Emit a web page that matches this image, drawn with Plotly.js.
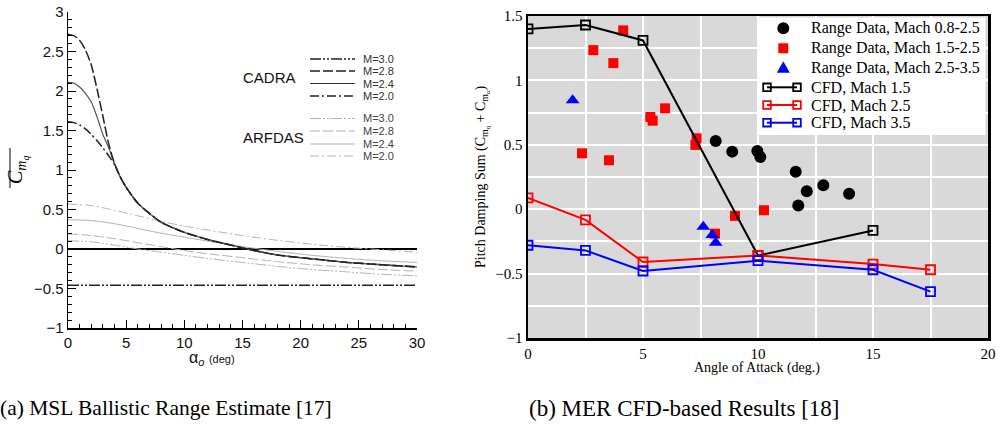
<!DOCTYPE html>
<html><head><meta charset="utf-8">
<script src="https://cdn.plot.ly/plotly-3.0.1.min.js"></script>
<style>html,body{margin:0;padding:0;background:#fff}#chart{width:997px;height:427px}</style>
</head><body><div id="chart"></div>
<script>
// ---------- (a) MSL Ballistic Range Estimate ----------
const alphaCadra = [0,0.5,1,1.5,2,2.5,3,3.5,4,4.5,5,6,7,8,9,10,12,14,16,18,20,22,24,26,28,30];
const cadraM28 = [2.72,2.70,2.64,2.52,2.33,2.02,1.68,1.33,1.08,0.91,0.78,0.58,0.45,0.34,0.27,0.21,0.12,0.05,-0.02,-0.075,-0.11,-0.14,-0.17,-0.19,-0.21,-0.225];
const cadraM24 = [2.11,2.10,2.05,1.97,1.86,1.67,1.45,1.28,1.08,0.91,0.78,0.58,0.45,0.34,0.27,0.21,0.12,0.05,-0.02,-0.075,-0.11,-0.14,-0.17,-0.19,-0.21,-0.225];
const cadraM20 = [1.61,1.60,1.57,1.52,1.45,1.37,1.28,1.18,1.07,0.91,0.78,0.58,0.45,0.34,0.27,0.21,0.12,0.05,-0.02,-0.075,-0.11,-0.14,-0.17,-0.19,-0.21,-0.225];
const alphaCadra30 = [0,30];
const cadraM30 = [-0.46,-0.46];

const alphaArfdas = [0,2,4,6,8,10,12,15,18,21,24,27,30];
const arfdasM20 = [0.57,0.55,0.49,0.42,0.35,0.29,0.24,0.17,0.11,0.06,0.02,-0.01,-0.04];
const arfdasM24 = [0.37,0.36,0.32,0.26,0.20,0.15,0.10,0.03,-0.03,-0.08,-0.12,-0.15,-0.17];
const arfdasM28 = [0.19,0.17,0.13,0.08,0.03,-0.02,-0.06,-0.11,-0.16,-0.20,-0.23,-0.26,-0.28];
const arfdasM30 = [0.105,0.09,0.05,0.0,-0.04,-0.08,-0.12,-0.17,-0.22,-0.26,-0.29,-0.32,-0.34];
const machLabels = ["M=3.0","M=2.8","M=2.4","M=2.0"];

// ---------- (b) MER CFD-based Results ----------
const rangeA_x = [8.16,8.88,9.97,10.1,11.64,12.12,12.84,13.96,11.75];
const rangeA_y = [0.53,0.447,0.452,0.405,0.29,0.14,0.186,0.12,0.028];
const rangeB_x = [4.14,2.84,3.71,5.32,5.42,5.96,7.33,7.28,2.35,3.52,9.0,10.26,8.13];
const rangeB_y = [1.388,1.235,1.134,0.716,0.687,0.783,0.55,0.499,0.434,0.38,-0.052,-0.008,-0.19];
const rangeC_x = [1.94,7.62,8.01,8.16];
const rangeC_y = [0.845,-0.137,-0.2,-0.26];
const cfd15_x = [0,2.5,5,10,15];
const cfd15_y = [1.40,1.43,1.31,-0.36,-0.165];
const cfd25_x = [0,2.5,5,10,15,17.5];
const cfd25_y = [0.088,-0.083,-0.41,-0.36,-0.426,-0.47];
const cfd35_x = [0,2.5,5,10,15,17.5];
const cfd35_y = [-0.28,-0.32,-0.48,-0.40,-0.47,-0.64];
const seriesNames = ["Range Data, Mach 0.8-2.5","Range Data, Mach 1.5-2.5","Range Data, Mach 2.5-3.5","CFD, Mach 1.5","CFD, Mach 2.5","CFD, Mach 3.5"];
const seriesColors = ["#000000","#ff0000","#0000ff","#000000","#ff0000","#0000ff"];

// ---------- layout helpers ----------
const W = 997, H = 427;
const PX = p => p / W, PY = p => 1 - p / H;

const dashDDot = "11px,2px,2px,2px,2px,2px";
const dashLong = "10px,3px";
const dashDot = "9px,3px,2px,3px";
const gray = "#b3b3b3";

function lineL(x, y, color, width, dash) {
  return {x: x, y: y, type: "scatter", mode: "lines", xaxis: "x", yaxis: "y", showlegend: false,
    line: {color: color, width: width, dash: dash, shape: "spline", smoothing: 0.7}, hoverinfo: "skip"};
}

const traces = [
  lineL(alphaArfdas, arfdasM30, gray, 1, dashDDot),
  lineL(alphaArfdas, arfdasM28, gray, 1, dashLong),
  lineL(alphaArfdas, arfdasM24, gray, 1, "solid"),
  lineL(alphaArfdas, arfdasM20, gray, 1, dashDot),
  lineL(alphaCadra30, cadraM30, "#222", 1.5, dashDDot),
  lineL(alphaCadra, cadraM20, "#222", 1.5, dashDot),
  lineL(alphaCadra, cadraM24, "#555", 1.2, "solid"),
  lineL(alphaCadra, cadraM28, "#222", 1.5, dashLong),
  {x: rangeA_x, y: rangeA_y, name: seriesNames[0], type: "scatter", mode: "markers", xaxis: "x2", yaxis: "y2",
    marker: {symbol: "circle", size: 12, color: seriesColors[0]}},
  {x: rangeB_x, y: rangeB_y, name: seriesNames[1], type: "scatter", mode: "markers", xaxis: "x2", yaxis: "y2",
    marker: {symbol: "square", size: 10, color: seriesColors[1]}},
  {x: rangeC_x, y: rangeC_y, name: seriesNames[2], type: "scatter", mode: "markers", xaxis: "x2", yaxis: "y2",
    marker: {symbol: "triangle-up", size: 12, color: seriesColors[2]}},
  {x: cfd15_x, y: cfd15_y, name: seriesNames[3], type: "scatter", mode: "lines+markers", xaxis: "x2", yaxis: "y2",
    line: {color: seriesColors[3], width: 2}, marker: {symbol: "square-open", size: 9, color: seriesColors[3], line: {width: 1.8}}},
  {x: cfd25_x, y: cfd25_y, name: seriesNames[4], type: "scatter", mode: "lines+markers", xaxis: "x2", yaxis: "y2",
    line: {color: seriesColors[4], width: 2}, marker: {symbol: "square-open", size: 9, color: seriesColors[4], line: {width: 1.8}}},
  {x: cfd35_x, y: cfd35_y, name: seriesNames[5], type: "scatter", mode: "lines+markers", xaxis: "x2", yaxis: "y2",
    line: {color: seriesColors[5], width: 2}, marker: {symbol: "square-open", size: 9, color: seriesColors[5], line: {width: 1.8}}}
];

const shapes = [
  {type: "rect", xref: "x2 domain", yref: "y2 domain", x0: 0, x1: 1, y0: 0, y1: 1, layer: "below",
    fillcolor: "#d9d9d9", line: {width: 0}},
  // overline for left y title
  {type: "line", xref: "paper", yref: "paper", x0: PX(10), x1: PX(10), y0: PY(148), y1: PY(188),
    line: {color: "#000", width: 1}}
];
const annotations = [];

// left legend (drawn manually: label groups sit to the left of the samples)
const cadraStyles = [[dashDDot,"#222",1.5],[dashLong,"#222",1.5],["solid","#333",1.2],[dashDot,"#222",1.5]];
const arfStyles = [[dashDDot,gray,1],[dashLong,gray,1],["solid",gray,1],[dashDot,gray,1]];
const cadraRows = [59, 71, 83.5, 96];
const arfRows = [118.5, 131, 144, 156];
for (let i = 0; i < 4; i++) {
  shapes.push({type: "line", xref: "paper", yref: "paper", x0: PX(310), x1: PX(355), y0: PY(cadraRows[i]), y1: PY(cadraRows[i]),
    line: {dash: cadraStyles[i][0], color: cadraStyles[i][1], width: cadraStyles[i][2]}});
  shapes.push({type: "line", xref: "paper", yref: "paper", x0: PX(310), x1: PX(355), y0: PY(arfRows[i]), y1: PY(arfRows[i]),
    line: {dash: arfStyles[i][0], color: arfStyles[i][1], width: arfStyles[i][2]}});
  annotations.push({xref: "paper", yref: "paper", x: PX(361), y: PY(cadraRows[i]), xanchor: "left", yanchor: "middle",
    text: machLabels[i], showarrow: false, font: {family: "Liberation Sans", size: 11, color: "#333"}});
  annotations.push({xref: "paper", yref: "paper", x: PX(361), y: PY(arfRows[i]), xanchor: "left", yanchor: "middle",
    text: machLabels[i], showarrow: false, font: {family: "Liberation Sans", size: 11, color: "#444"}});
}

// right legend (drawn manually to match the compact row spacing)
shapes.push({type: "rect", xref: "paper", yref: "paper", x0: PX(757), x1: PX(985.5), y0: PY(135), y1: PY(17.5),
  fillcolor: "#fff", line: {width: 0}, layer: "above"});
const legRows = [28.3, 48.3, 67.7, 87.3, 105, 122.7];
const mx = 783.3;
shapes.push({type: "circle", xref: "paper", yref: "paper", x0: PX(mx-6), x1: PX(mx+6), y0: PY(legRows[0]+6), y1: PY(legRows[0]-6),
  fillcolor: seriesColors[0], line: {width: 0}});
shapes.push({type: "rect", xref: "paper", yref: "paper", x0: PX(mx-5), x1: PX(mx+5), y0: PY(legRows[1]+5), y1: PY(legRows[1]-5),
  fillcolor: seriesColors[1], line: {width: 0}});
shapes.push({type: "path", xref: "paper", yref: "paper",
  path: "M " + PX(mx) + " " + PY(legRows[2]-6.5) + " L " + PX(mx+6.5) + " " + PY(legRows[2]+5) + " L " + PX(mx-6.5) + " " + PY(legRows[2]+5) + " Z",
  fillcolor: seriesColors[2], line: {width: 0}});
for (let k = 3; k < 6; k++) {
  const r = legRows[k], c = seriesColors[k];
  shapes.push({type: "line", xref: "paper", yref: "paper", x0: PX(767), x1: PX(797), y0: PY(r), y1: PY(r), line: {color: c, width: 2}});
  [767, 797].forEach(cx => shapes.push({type: "rect", xref: "paper", yref: "paper", x0: PX(cx-3.8), x1: PX(cx+3.8),
    y0: PY(r+3.8), y1: PY(r-3.8), fillcolor: "rgba(0,0,0,0)", line: {color: c, width: 1.8}}));
}
for (let k = 0; k < 6; k++) {
  annotations.push({xref: "paper", yref: "paper", x: PX(809), y: PY(legRows[k]), xanchor: "left", yanchor: "middle",
    text: seriesNames[k], showarrow: false, font: {family: "Liberation Serif", size: 16, color: "#000"}});
}

annotations.push(
  {xref: "paper", yref: "paper", x: PX(241), y: PY(78), xanchor: "left", yanchor: "middle", text: "CADRA",
    showarrow: false, font: {family: "Liberation Sans", size: 15, color: "#111"}},
  {xref: "paper", yref: "paper", x: PX(241), y: PY(137.5), xanchor: "left", yanchor: "middle", text: "ARFDAS",
    showarrow: false, font: {family: "Liberation Sans", size: 15, color: "#111"}},
  {xref: "paper", yref: "paper", x: PX(17), y: PY(170), xanchor: "center", yanchor: "middle", textangle: -90,
    text: "<i>C<sub>m<sub>q</sub></sub></i>", showarrow: false, font: {family: "Liberation Serif", size: 20, color: "#000"}},
  {xref: "paper", yref: "paper", x: PX(212), y: PY(358), xanchor: "center", yanchor: "middle",
    text: "α<sub><i>o</i></sub> <span style='font-size:11px'>(deg)</span>", showarrow: false,
    font: {family: "Liberation Sans", size: 16, color: "#111"}},
  {xref: "paper", yref: "paper", x: PX(757), y: PY(368), xanchor: "center", yanchor: "middle",
    text: "Angle of Attack (deg.)", showarrow: false, font: {family: "Liberation Serif", size: 14, color: "#000"}},
  {xref: "paper", yref: "paper", x: PX(482), y: PY(177), xanchor: "center", yanchor: "middle", textangle: -90,
    text: "Pitch Damping Sum (C<sub>m<sub>q</sub></sub> + C<sub>m<sub>α</sub></sub>)", showarrow: false,
    font: {family: "Liberation Serif", size: 14, color: "#000"}},
  {xref: "paper", yref: "paper", x: PX(-2), y: PY(408), xanchor: "left", yanchor: "middle",
    text: "(a) MSL Ballistic Range Estimate [17]", showarrow: false, font: {family: "Liberation Serif", size: 21.5, color: "#000"}},
  {xref: "paper", yref: "paper", x: PX(527), y: PY(408), xanchor: "left", yanchor: "middle",
    text: "(b) MER CFD-based Results [18]", showarrow: false, font: {family: "Liberation Serif", size: 23, color: "#000"}}
);

const layout = {
  width: W, height: H,
  margin: {l: 0, r: 0, t: 0, b: 0},
  paper_bgcolor: "#fff", plot_bgcolor: "rgba(0,0,0,0)",
  showlegend: false,
  xaxis: {domain: [PX(68), PX(417)], range: [0, 30], dtick: 5, tick0: 0, showgrid: false, zeroline: false,
    showline: true, linecolor: "#000", linewidth: 1.5, ticks: "inside", ticklen: 8, tickcolor: "#000", tickwidth: 1,
    minor: {dtick: 1, ticks: "inside", ticklen: 4, tickcolor: "#000", showgrid: false},
    tickfont: {family: "Liberation Sans", size: 15, color: "#111"}, anchor: "y", fixedrange: true},
  yaxis: {domain: [PY(328), PY(12)], range: [-1, 3], dtick: 0.5, tick0: 0, showgrid: false,
    zeroline: true, zerolinecolor: "#000", zerolinewidth: 1.5,
    showline: true, linecolor: "#000", linewidth: 1.5, ticks: "inside", ticklen: 8, tickcolor: "#000", tickwidth: 1,
    minor: {dtick: 0.1, ticks: "inside", ticklen: 4, tickcolor: "#000", showgrid: false},
    tickfont: {family: "Liberation Sans", size: 15, color: "#111"}, anchor: "x", fixedrange: true},
  xaxis2: {domain: [PX(528), PX(988)], range: [0, 20], dtick: 5, tick0: 0, showgrid: true, gridcolor: "#fff", gridwidth: 2,
    minor: {dtick: 2.5, showgrid: true, gridcolor: "#fff", gridwidth: 2},
    zeroline: false, showline: true, mirror: true, linecolor: "#000", linewidth: 2.5, ticks: "",
    tickfont: {family: "Liberation Serif", size: 15, color: "#000"}, anchor: "y2", fixedrange: true},
  yaxis2: {domain: [PY(338), PY(16)], range: [-1, 1.5], dtick: 0.5, tick0: 0, showgrid: true, gridcolor: "#fff", gridwidth: 2,
    minor: {dtick: 0.25, showgrid: true, gridcolor: "#fff", gridwidth: 2},
    zeroline: false, showline: true, mirror: true, linecolor: "#000", linewidth: 2.5, ticks: "",
    tickfont: {family: "Liberation Serif", size: 15, color: "#000"}, anchor: "x2", fixedrange: true},
  shapes: shapes,
  annotations: annotations
};

Plotly.newPlot("chart", traces, layout, {staticPlot: true, displayModeBar: false});
</script></body></html>
